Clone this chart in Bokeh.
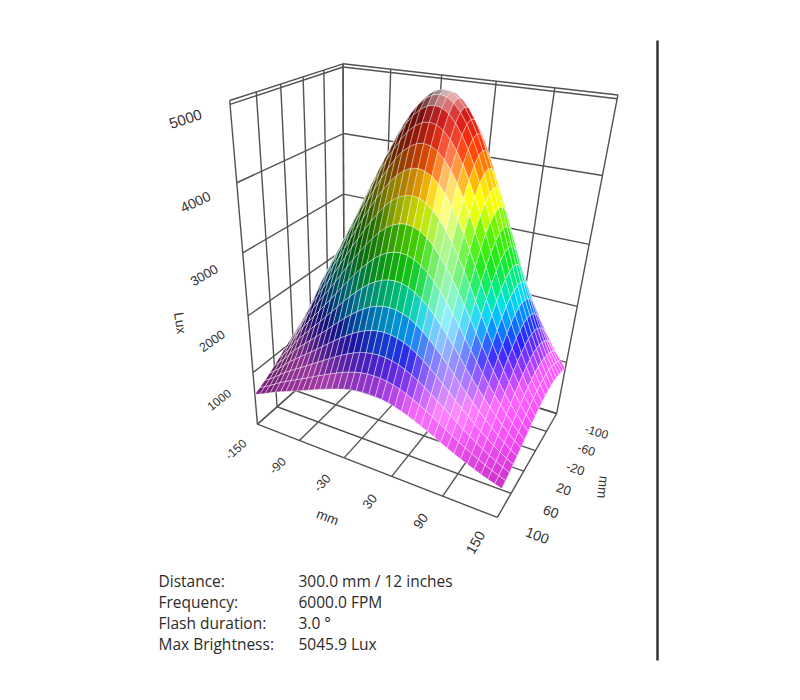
import numpy as np
from bokeh.plotting import figure
from bokeh.models import Range1d
from bokeh.core.properties import value
from bokeh.embed import file_html
from bokeh.resources import INLINE

# ---------------- data ----------------
X_MM = [-150, -142.5, -135, -127.5, -120, -112.5, -105, -97.5, -90, -82.5, -75, -67.5, -60, -52.5, -45, -37.5,
        -30, -22.5, -15, -7.5, 0, 7.5, 15, 22.5, 30, 37.5, 45, 52.5, 60, 67.5, 75, 82.5, 90, 97.5, 105, 112.5,
        120, 127.5, 135, 142.5, 150]
Y_MM = [-100, -90, -80, -70, -60, -50, -40, -30, -20, -10, 0, 10, 20, 30, 40, 50, 60, 70, 80, 90, 100]
# illuminance profile through the peak along x (at y = -40 mm), Lux
LUX_ALONG_X = [1352, 1561, 1794, 2049, 2305, 2514, 2723, 2932, 3141, 3355, 3573, 3792, 4005, 4210, 4405, 4581,
               4744, 4874, 4967, 5027, 5045.9, 5025, 4961, 4857, 4715, 4539, 4334, 4104, 3856, 3595, 3326, 3055,
               2788, 2527, 2277, 2042, 1815, 1600, 1400, 1220, 1050]
# illuminance profile through the peak along y (at x = 0 mm), Lux
LUX_ALONG_Y = [3856, 4183, 4474, 4715, 4896, 5008, 5045.9, 5008, 4896, 4715, 4474, 4183, 3856, 3506, 3146, 2788,
               2442, 2119, 1823, 1559, 1328]
LUX_BASE = 400.0
LUX_MAX = 5045.9
Z_LIM = [0.0, 5045.9]
X_TICKS = [-150, -90, -30, 30, 90, 150]
Y_TICKS = [-100, -60, -20, 20, 60, 100]
Z_TICKS = [1000, 2000, 3000, 4000, 5000]
X_TITLE = "mm"
Y_TITLE = "mm"
Z_TITLE = "Lux"
INFO_LABELS = ["Distance:", "Frequency:", "Flash duration:", "Max Brightness:"]
INFO_VALUES = ["300.0 mm / 12 inches", "6000.0 FPM", "3.0 \u00b0", "5045.9 Lux"]

# ---------------- perspective view (like persp's viewing transformation) ----------------
VT = np.array([[92.1089, 81.5509, -45.2884, 415.778],
               [8.35881, -9.68861, -194.043, 278.603],
               [-0.0847313, 0.0959991, -0.129969, 1.0]])


def wx(x):
    return np.asarray(x, float) / 150.0


def wy(y):
    return -np.asarray(y, float) / 100.0


def wz(z):
    return 2.0 * (np.asarray(z, float) - Z_LIM[0]) / (Z_LIM[1] - Z_LIM[0]) - 1.0


def proj(x, y, z):
    X, Y, Zn = wx(x), wy(y), wz(z)
    h = [VT[k, 0] * X + VT[k, 1] * Y + VT[k, 2] * Zn + VT[k, 3] for k in range(3)]
    return h[0] / h[2], h[1] / h[2], h[2]


_, _, Vn = np.linalg.svd(VT)
EYE = Vn[-1][:3] / Vn[-1][3]
ASPECT = np.array([1.0, 1.0, 1.2])

p = figure(width=784, height=684, x_range=Range1d(0, 784), y_range=Range1d(684, 0),
           x_axis_type=None, y_axis_type=None, toolbar_location=None, output_backend="svg",
           min_border=0)
p.outline_line_color = None
p.background_fill_color = "white"
p.border_fill_color = "white"

# ---------------- back panels of the box ----------------
zlo, zhi = Z_LIM
zlev = [zlo] + Z_TICKS + [zhi]
segs = []
for xt in X_TICKS:
    segs.append(((xt, 100, zlo), (xt, -100, zlo)))
for yt in Y_TICKS:
    segs.append(((-150, yt, zlo), (150, yt, zlo)))
for yt in Y_TICKS:
    segs.append(((-150, yt, zlo), (-150, yt, zhi)))
for zt in zlev:
    segs.append(((-150, 100, zt), (-150, -100, zt)))
for xt in X_TICKS:
    segs.append(((xt, -100, zlo), (xt, -100, zhi)))
for zt in zlev:
    segs.append(((-150, -100, zt), (150, -100, zt)))
bx, by = [], []
for a, b in segs:
    u, v, _ = proj([a[0], b[0]], [a[1], b[1]], [a[2], b[2]])
    bx.append(list(u)); by.append(list(v))
p.multi_line(bx, by, line_color="#525252", line_width=1.4)

# ---------------- surface ----------------
XA = np.array(X_MM, float)
YA = np.array(Y_MM, float)
LX = np.array(LUX_ALONG_X, float)
LY = np.array(LUX_ALONG_Y, float)
Z = LUX_BASE + np.outer(LX - LUX_BASE, LY - LUX_BASE) / (LUX_MAX - LUX_BASE)

GX, GY = np.meshgrid(XA, YA, indexing="ij")
SU, SV, SW = proj(GX, GY, Z)

ST_Z = [500, 1250, 1550, 1850, 2150, 2400, 2650, 2950, 3350, 3650, 3850, 4100, 4450, 4780, 5046]
ST_C = np.array([(205, 50, 205), (245, 90, 250), (135, 50, 245), (40, 30, 240), (0, 130, 245), (0, 205, 225),
                 (0, 220, 120), (20, 215, 20), (80, 225, 0), (220, 240, 0), (255, 235, 0), (255, 140, 0),
                 (235, 45, 10), (195, 25, 25), (228, 214, 214)], float)


def pal(zv):
    return np.array([np.interp(zv, ST_Z, ST_C[:, k]) for k in range(3)])


light = np.array([1.0, -0.3, 0.45]); light /= np.linalg.norm(light)
W3 = np.stack([wx(GX), wy(GY), wz(Z)], -1) * ASPECT
eye3 = EYE * ASPECT
faces = []
ni, nj = Z.shape
for i in range(ni - 1):
    for j in range(nj - 1):
        c00, c10, c11, c01 = W3[i, j], W3[i + 1, j], W3[i + 1, j + 1], W3[i, j + 1]
        n = np.cross(c11 - c00, c01 - c10)
        if n[2] < 0:
            n = -n
        n /= np.linalg.norm(n)
        cen = (c00 + c10 + c11 + c01) / 4
        V = eye3 - cen; V /= np.linalg.norm(V)
        H = light + V; H /= np.linalg.norm(H)
        shade = np.clip(0.57 + 0.57 * (n @ light), 0.12, 1.08)
        zm = (Z[i, j] + Z[i + 1, j] + Z[i + 1, j + 1] + Z[i, j + 1]) / 4
        col = pal(zm) * shade
        s = max(0.0, n @ H) ** 30 * 0.6
        col = np.clip(col * (1 - s) + 255 * s, 0, 255)
        depth = (SW[i, j] + SW[i + 1, j] + SW[i + 1, j + 1] + SW[i, j + 1]) / 4
        xs = [SU[i, j], SU[i + 1, j], SU[i + 1, j + 1], SU[i, j + 1]]
        ys = [SV[i, j], SV[i + 1, j], SV[i + 1, j + 1], SV[i, j + 1]]
        faces.append((depth, xs, ys, "#%02x%02x%02x" % tuple(int(round(t)) for t in col)))
faces.sort(key=lambda f: -f[0])
p.patches([f[1] for f in faces], [f[2] for f in faces], fill_color=[f[3] for f in faces],
          line_color="white", line_alpha=0.6, line_width=0.7)

# ---------------- texts ----------------
FONT = value("Liberation Sans")


def direction(x, y, z, dirv):
    x = np.asarray(x, float); y = np.asarray(y, float); z = np.asarray(z, float)
    u, v, w = proj(x, y, z)
    u2, v2, _ = proj(x + dirv[0], y + dirv[1], z + dirv[2])
    return u, v, w, np.arctan2(-(v2 - v), (u2 - u))


def draw(u, v, w, ang, txt, font_px, w_ref):
    sizes = ["%.1fpx" % (font_px * w_ref / ww) for ww in np.atleast_1d(w)]
    p.text(list(np.atleast_1d(u)), list(np.atleast_1d(v)), text=list(txt), angle=list(np.atleast_1d(ang)),
           text_font_size=sizes, text_align="center", text_baseline="middle",
           text_color="#333333", text_font=FONT)


# z axis: labels in the plane of the left wall, in front of its front edge
u, v, w, a = direction([-150] * 5, [160] * 5, Z_TICKS, (0, -10, 0))
draw(u, v, w, a, [str(t) for t in Z_TICKS], 15, w[-1])
u2, v2, w2, a2 = direction([-150], [200], [2550], (0, 0, -100))
draw(u2, v2, w2, a2, [Z_TITLE], 13.5, w2[0])

# x axis: labels below the front floor edge, reading towards the back
u, v, w, a = direction(X_TICKS, [100] * 6, [zlo] * 6, (0, -10, 0))
draw(u - 22, v + 25, w, a, [str(t) for t in X_TICKS], 13, np.mean(w))
u, v, w, a = direction([-45], [100], [zlo], (10, 0, 0))
draw(u - 5, v + 64, w, a, [X_TITLE], 13.5, w[0])

# y axis: labels right of the right floor edge, reading along x
u, v, w, a = direction([150] * 6, Y_TICKS, [zlo] * 6, (10, 0, 0))
draw(u + 40, v + 18, w, a, [str(t) for t in Y_TICKS], 13, np.mean(w))
u, v, w, a = direction([150], [20], [zlo], (10, 0, 0))
draw(u + 79, v + 16, w, [-np.pi / 2 - 0.1], [Y_TITLE], 13.5, w[0])

# ---------------- info block ----------------
rows_y = [580, 601, 622, 643]
p.text([158] * 4, rows_y, text=INFO_LABELS, text_font_size="15.5px", text_baseline="middle",
       text_color="#2b2b2b", text_font=value("Open Sans"))
p.text([298] * 4, rows_y, text=INFO_VALUES, text_font_size="15.5px", text_baseline="middle",
       text_color="#2b2b2b", text_font=value("Open Sans"))
p.segment([657], [40], [657], [660], line_color="#333333", line_width=2.5)

open("out.html", "w").write(file_html(p, INLINE))
